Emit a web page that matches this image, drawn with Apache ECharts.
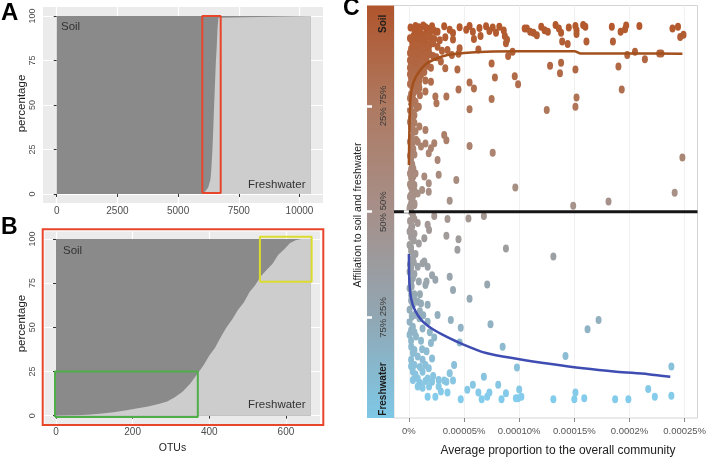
<!DOCTYPE html>
<html><head><meta charset="utf-8">
<script src="https://cdn.jsdelivr.net/npm/echarts@6/dist/echarts.min.js"></script>
<style>html,body{margin:0;padding:0;background:#fff}#c{width:709px;height:458px}</style>
</head><body><div id="c"></div>
<script>
// ---------------- Panel A ----------------
const aOTU   = [0, 6040, 6240, 6329, 6363, 6411, 6450, 6485, 6520, 6555, 6590, 6624, 6659, 6677, 10470];
const aFresh = [0, 0, 3.6, 8, 12.6, 24, 37, 50, 62, 74, 82.5, 93, 99, 100, 100];
const aSoilExtent = [0, 10470];
const aTicksX = [0, 2500, 5000, 7500, 10000];
const pctTicks = [0, 25, 50, 75, 100];
const aRedBox = [5997, 0.5, 6755, 100];
// ---------------- Panel B ----------------
const bOTU   = [0, 30, 60, 90, 120, 150, 180, 210, 240, 270, 290, 310, 330, 350, 370, 385, 400, 415, 430, 445, 460, 475, 490, 505, 520, 535, 550, 565, 580, 595, 610, 625, 640, 665];
const bFresh = [0, 0.1, 0.3, 0.7, 1.3, 2.0, 3.0, 4.0, 5.2, 6.8, 8.0, 10.5, 13.5, 18, 24, 28.5, 34, 38.5, 44.5, 50, 54.5, 60, 64, 70, 74, 79, 82.5, 86, 91, 94, 97.5, 99.3, 100, 100];
const bSoilExtent = [0, 665];
const bTicksX = [0, 200, 400, 600];
const bGreenBox = [-2.6, -0.7, 370, 25];
const bYellowBox = [532, 75.8, 667, 101.3];
// ---------------- Panel C ----------------
// x in units of 0.00001 % (average proportion), y = affiliation to soil (%)
const cXRange = [-1.35, 26.17];
const cYRange = [1.25, 98.72];
const cTicks = [0, 5, 10, 15, 20, 25];
const cTickLabels = ['0%', '0.00005%', '0.00010%', '0.00015%', '0.0002%', '0.00025%'];
const cYLabelPos = [8.1, 25, 50, 75, 94.4];
const cYLabels = ['Freshwater', '75% 25%', '50% 50%', '25% 75%', 'Soil'];
const cYTicks = [25, 50, 75];
const cSoilCore = [[0.5,93.0],[0.9,93.6],[1.3,94.0],[1.7,93.2],[2.1,93.8],[2.4,92.6],[0.4,91.5],[0.8,92.0],[1.2,91.8],[1.6,92.4],[2.0,91.0],[0.3,90.0],[0.7,90.5],[1.1,89.8],[1.5,90.3],[1.9,89.5],[2.3,90.8],[0.2,88.5],[0.6,88.8],[1.0,88.0],[1.4,87.6],[1.8,88.3],[0.3,86.8],[0.7,86.2],[1.2,86.5],[1.6,85.9],[2.2,86.8],[0.2,85.0],[0.5,84.6],[0.9,84.2],[1.3,84.8],[2.0,84.0],[0.3,83.2],[0.7,82.8],[1.1,82.3],[0.2,81.5],[0.5,80.8],[0.9,80.2],[1.5,81.0],[0.3,79.5],[0.6,78.6],[0.2,77.8],[1.0,77.5],[0.4,76.5],[0.2,75.2],[0.7,74.5],[0.3,73.5],[0.2,72.2],[0.5,71.0],[0.2,70.0],[0.4,68.8],[0.2,67.5],[0.8,66.5],[0.3,65.8],[0.2,64.5],[0.5,63.5],[0.2,62.5],[0.3,61.2],[0.2,60.0],[0.6,59.0],[0.2,58.0],[0.3,57.0],[0.2,55.8],[0.5,55.0],[0.2,54.0],[0.3,53.0],[0.2,52.0],[0.5,51.5],[0.2,50.8],
 [0.15,93.5],[1.0,92.8],[1.9,92.0],[2.2,93.0],[0.6,93.9],[1.5,93.6],[0.1,91.0],[0.9,91.0],[1.3,90.8],[1.7,91.4],[2.2,89.8],[0.5,89.3],[0.9,89.2],[1.3,88.8],[1.7,89.0],[0.1,87.5],[0.5,87.5],[0.9,87.0],[1.5,86.8],[1.9,87.2],[0.1,85.8],[0.5,85.6],[0.9,85.5],[1.1,84.0],[1.7,84.5],[0.1,84.0],[0.5,83.0],[0.9,83.2],[1.4,83.0],[0.1,82.5],[0.4,82.0],[0.8,81.5],[0.1,80.2],[0.6,80.0],[0.4,78.0],[0.1,76.8],[0.6,76.0],[0.1,74.0],[0.5,72.8],[0.1,71.2],[0.3,69.8],[0.6,69.0],[0.1,66.5],[0.4,64.8],[0.1,63.2],[0.4,60.2],[0.1,59.0],[0.4,58.3],[0.1,56.5],[0.35,55.5],[0.1,53.5],[0.4,53.8],[0.1,51.2]];
const cSoilNear = [[0.95,79.2],[1.5,78.4],[0.95,81.1],[2.0,80.7],[2.4,77.2],[0.9,74.8],[0.95,70.1],[1.5,69.3],[0.65,67.0],[1.1,65.4],[1.5,66.1],[2.0,65.0],[2.3,66.2],[1.8,63.8],[1.4,58.3],[1.8,56.7],[0.5,56.3],[1.2,55.1],[0.8,54.3],[0.3,52.4],[0.5,52.0],[1.8,54.7]];
const cSoilSpread = [[2.6,92.5],[3.2,93.8],[3.7,93.0],[4.0,92.2],[4.6,93.6],[5.2,93.0],[5.5,93.9],[5.8,92.5],[6.4,93.4],[7.0,93.8],[7.3,92.7],[7.6,93.5],[7.9,92.3],[8.2,93.7],[8.6,92.8],[8.7,91.5],
 [2.8,90.5],[3.3,91.2],[2.6,89.0],[3.0,88.0],[3.5,88.2],[3.9,87.0],[4.5,87.3],[2.5,86.5],[2.9,85.5],
 [4.0,90.7],[5.9,90.8],[6.5,91.5],[4.6,88.6],[6.3,88.3],[8.9,90.6],[8.8,89.8],[9.0,86.8],[9.4,87.8],[10.5,93.3],
 [7.5,85.0],[7.8,81.7],[9.6,82.0],[9.9,80.1],[5.5,80.5],[5.9,79.1],[4.5,78.9],[3.4,77.2],[2.5,75.6],[7.5,76.6],[5.5,74.2],[4.4,83.6],[3.3,83.9],[3.2,68.1],[3.4,66.9],[5.5,65.5],[7.6,63.9],[2.7,58.7],[4.3,57.5],[3.7,52.6],[2.6,62.2],
 [10.7,93.3],[11.0,92.5],[11.3,92.3],[11.6,91.7],[12.0,93.7],[12.3,92.9],[12.6,92.5],[13.3,94.1],[13.6,93.3],[13.8,92.3],[13.9,90.2],[14.5,93.5],[14.4,89.6],[15.1,93.9],[15.2,92.9],[15.2,92.0],[15.8,94.1],[16.0,93.7],[16.1,90.2],
 [12.8,84.5],[13.8,85.2],[13.7,82.7],[15.1,83.6],[12.5,74.0],[15.2,77.0],[15.1,74.8],[18.4,93.7],[18.5,90.2],[19.2,92.5],[19.6,93.1],[19.7,94.0],[20.9,93.9],[19.0,84.3],[19.3,78.9],[19.8,87.0],[20.5,87.8],[21.4,86.0],[22.7,87.4],[22.9,87.4],
 [23.9,93.3],[24.4,93.7],[24.6,91.3],[24.9,91.8],[24.8,62.8],[24.1,54.5],[14.9,51.4],[18.1,52.4],[9.65,55.7]];
const cFreshCore = [[0.06,50.8],[0.36,49.2],[0.1,47.8],[0.3,46.5],[0.06,45.3],[0.2,44.0],[0.06,42.1],[0.21,40.6],[0.36,39.0],[0.1,37.5],[0.06,35.8],[0.36,34.3],[0.2,33.0],[0.06,31.9],[0.21,30.3],[0.36,28.0],[0.06,26.8],[0.5,25.6],[0.06,24.0],[0.36,22.8],[0.06,20.9],[0.21,18.1],[0.36,16.6],[0.5,13.8],[0.36,12.2],[0.36,10.2],
 [0.8,47.3],[1.4,43.7],[0.8,37.0],[1.24,37.8],[1.5,32.7],[0.8,28.7],[1.1,28.3],[0.95,24.8],[1.24,22.4],[0.65,20.5],[1.1,19.5],[0.8,15.8],[1.24,15.0],[1.5,13.8],[1.24,12.2],[0.8,10.6],[1.24,8.4],[0.8,8.7],[0.5,30.5],[0.9,33.5],[0.6,40.0],[0.9,42.5],[0.5,44.8],[1.4,38.2],
 [0.2,50.0],[0.5,48.3],[0.2,46.2],[0.45,43.2],[0.2,41.5],[0.45,38.0],[0.2,36.7],[0.5,35.3],[0.25,32.3],[0.5,29.2],[0.2,29.0],[0.25,25.2],[0.2,22.0],[0.5,21.5],[0.2,19.5],[0.5,17.3],[0.2,15.0],[0.6,11.5],[0.2,13.5],[1.0,26.5],[1.3,25.5],[1.0,30.5],[1.2,17.5],[1.0,13.3],[1.5,10.0],[1.0,9.5]];
const cFreshSpread = [[1.7,46.9],[1.83,45.7],[2.3,49.0],[3.5,48.3],[5.4,48.4],[6.8,49.0],[3.4,44.3],[4.5,43.5],[4.4,41.0],[8.8,41.3],[13.1,39.4],[2.1,35.0],[1.6,33.5],[2.4,33.9],[1.7,37.0],[3.7,34.6],[7.1,32.8],[4.0,31.5],[5.5,29.4],[1.7,28.0],[2.6,25.6],[3.8,24.4],[7.4,23.4],[4.7,22.6],[17.2,24.4],[16.2,22.2],[1.7,24.0],[1.9,21.5],[2.3,20.3],[2.0,19.0],[1.6,17.0],[2.1,15.3],[1.8,13.0],[4.6,19.1],[8.5,18.1],[14.2,15.9],[23.8,13.4],[4.1,13.8],[3.7,11.8],[2.7,10.2],[3.4,9.8],[4.0,10.1],[6.8,11.0],[9.8,13.2],[5.3,7.9],[5.8,9.1],[6.3,7.3],[7.3,7.3],[8.1,9.1],[8.8,7.1],[10.0,8.0],[4.7,5.7],[6.6,5.7],[7.1,6.3],[8.4,5.7],[9.7,5.9],[9.9,5.9],[10.2,6.3],[13.1,5.7],[15.0,5.7],[15.1,7.3],[15.9,5.9],[18.7,5.7],[19.9,5.7],[21.7,8.1],[22.3,6.3],[23.8,6.5],[2.9,7.5],[3.5,7.3],[2.4,6.3],[1.7,6.3],[2.2,11.2],[3.2,10.1],[2.7,8.7],[1.7,10.6],[1.83,8.7],[2.1,9.8]];
const soilFitX = [0.0, 0.05, 0.15, 0.4, 0.9, 1.5, 2.5, 3.5, 5.0, 7.0, 10.0, 15.0, 15.6, 20.0, 24.8];
const soilFitY = [61, 70, 77, 80.5, 83, 84.8, 86.2, 87.0, 87.5, 87.8, 87.9, 87.9, 87.4, 87.4, 87.3];
const freshFitX = [0.0, 0.05, 0.2, 0.5, 1.1, 2.0, 3.0, 4.6, 7.0, 9.9, 12.9, 15.8, 18.8, 21.7, 23.7];
const freshFitY = [40, 33, 29.5, 27, 24.5, 22.5, 21, 19, 16.6, 15.2, 14, 13, 12.2, 11.6, 11];
const cMidLine = 50;

// ---------------- helpers ----------------
const zip = (xs, ys) => xs.map((x, i) => [x, ys[i]]);
const box = b => [[b[0], b[1]], [b[2], b[1]], [b[2], b[3]], [b[0], b[3]], [b[0], b[1]]];
const FONT = '"Liberation Sans", Arial, sans-serif';
const DARK = '#8a8a8a', LIGHT = '#cdcdcd', PANEL = '#ebebeb';

function ggX(gi, min, max, ticks) {
  return { gridIndex: gi, type: 'value', min: min, max: max,
    axisLine: { show: false },
    axisTick: { show: true, customValues: ticks, length: 3, lineStyle: { color: '#333' } },
    axisLabel: { customValues: ticks, fontSize: 10, color: '#4d4d4d', margin: 3, fontFamily: FONT, formatter: v => String(v) },
    splitLine: { show: true, lineStyle: { color: '#fff', width: 1.2 } } };
}
function ggY(gi, min, max, margin) {
  return { gridIndex: gi, type: 'value', min: min, max: max,
    axisLine: { show: false },
    axisTick: { show: true, customValues: pctTicks, length: 3, lineStyle: { color: '#333' } },
    axisLabel: { customValues: pctTicks, fontSize: 9, color: '#4d4d4d', rotate: 90, margin: margin, fontFamily: FONT, formatter: v => String(v) },
    splitLine: { show: true, lineStyle: { color: '#fff', width: 1.2 } } };
}
function area(xi, data, color) {
  return { type: 'line', xAxisIndex: xi, yAxisIndex: xi, data: data, showSymbol: false, symbol: 'none',
    lineStyle: { width: 0 }, areaStyle: { color: color, opacity: 1 }, silent: true, z: 2 };
}
function boxLine(xi, b, color) {
  return { type: 'line', xAxisIndex: xi, yAxisIndex: xi, data: box(b), symbol: 'none', showSymbol: false,
    lineStyle: { color: color, width: 2 }, silent: true, z: 4 };
}

const scatterData = [].concat(cSoilCore, cSoilNear, cSoilSpread, cFreshCore, cFreshSpread);

const C_LEFT = 394, C_TOP = 5.5, C_W = 311, C_H = 412.5;

const chart = echarts.init(document.getElementById('c'), null, { renderer: 'canvas' });
chart.setOption({
  animation: false,
  textStyle: { fontFamily: FONT },
  grid: [
    { left: 43, top: 7, width: 280, height: 196, show: true, backgroundColor: PANEL, borderWidth: 0, containLabel: false },
    { left: 44.5, top: 231.5, width: 275.5, height: 192.5, show: true, backgroundColor: PANEL, borderWidth: 0, containLabel: false },
    { left: C_LEFT, top: C_TOP, width: C_W, height: C_H, show: true, backgroundColor: '#fff', borderColor: '#d4d4d4', borderWidth: 1, containLabel: false }
  ],
  xAxis: [
    ggX(0, -564, 10968, aTicksX),
    ggX(1, -30, 688.8, bTicksX),
    { gridIndex: 2, type: 'value', min: cXRange[0], max: cXRange[1],
      axisLine: { show: false },
      axisTick: { show: true, customValues: cTicks, length: 4, lineStyle: { color: '#888' } },
      axisLabel: { customValues: cTicks, fontSize: 9.5, color: '#555', margin: 8, fontFamily: FONT,
        formatter: v => { const i = cTicks.findIndex(t => Math.abs(t - v) < 1e-6); return i < 0 ? '' : cTickLabels[i]; } },
      splitLine: { show: true, lineStyle: { color: '#f1f1f1', width: 1 } } }
  ],
  yAxis: [
    ggY(0, -5.06, 105.06, 6),
    ggY(1, -4.7, 104.2, 7.5),
    { gridIndex: 2, type: 'value', min: cYRange[0], max: cYRange[1], z: 10,
      axisLine: { show: false },
      axisTick: { show: true, customValues: cYTicks, length: 5, lineStyle: { color: '#fff', width: 2.5 } },
      axisLabel: { customValues: cYLabelPos, rotate: 90, margin: 6, fontSize: 9.5, color: '#3a3a3a', fontFamily: FONT,
        formatter: v => { const i = cYLabelPos.findIndex(t => Math.abs(t - v) < 1e-6); if (i < 0) return ''; const s = cYLabels[i]; return (i === 0 || i === cYLabels.length - 1) ? '{b|' + s + '}' : s; },
        rich: { b: { fontWeight: 'bold', fontSize: 10, color: '#1c1c1c', fontFamily: FONT } } },
      splitLine: { show: false } },
    { gridIndex: 2, type: 'value', min: cYRange[0], max: cYRange[1], position: 'left', offset: 27, z: 10,
      axisLine: { show: false },
      axisTick: { show: true, inside: true, customValues: cYTicks, length: 5, lineStyle: { color: '#fff', width: 2.5 } },
      axisLabel: { show: false }, splitLine: { show: false } }
  ],
  visualMap: [{ type: 'continuous', show: false, dimension: 1, seriesIndex: 7, min: 5, max: 95,
    inRange: { color: ['#84cdee', '#94acb9', '#a5958f', '#ae7a60', '#b3572a'] } }],
  series: [
    area(0, aSoilExtent.map(x => [x, 100]), DARK),
    area(0, zip(aOTU, aFresh), LIGHT),
    boxLine(0, aRedBox, '#e8462b'),
    area(1, bSoilExtent.map(x => [x, 100]), DARK),
    area(1, zip(bOTU, bFresh), LIGHT),
    boxLine(1, bGreenBox, '#4fae48'),
    boxLine(1, bYellowBox, '#dcdc2e'),
    { type: 'scatter', xAxisIndex: 2, yAxisIndex: 2, data: scatterData, symbol: 'circle', symbolSize: [6, 8],
      itemStyle: { opacity: 1 }, silent: true, z: 2 },
    { type: 'line', xAxisIndex: 2, yAxisIndex: 2, data: zip(soilFitX, soilFitY), smooth: 0.3, symbol: 'none', showSymbol: false,
      lineStyle: { color: '#a3501d', width: 2.5 }, silent: true, z: 3 },
    { type: 'line', xAxisIndex: 2, yAxisIndex: 2, data: zip(freshFitX, freshFitY), smooth: 0.3, symbol: 'none', showSymbol: false,
      lineStyle: { color: '#3f4db3', width: 2.5 }, silent: true, z: 3 },
    { type: 'line', xAxisIndex: 2, yAxisIndex: 2, data: cXRange.map(x => [x, cMidLine]), symbol: 'none', showSymbol: false,
      lineStyle: { color: '#151515', width: 3 }, silent: true, z: 5 }
  ],
  graphic: [
    { type: 'rect', z: 1, shape: { x: 367, y: C_TOP, width: 27, height: C_H },
      style: { fill: new echarts.graphic.LinearGradient(0, 0, 0, 1, [
        { offset: 0, color: '#b0552c' }, { offset: 0.25, color: '#ae7a62' }, { offset: 0.5, color: '#a6908a' },
        { offset: 0.75, color: '#91a6b2' }, { offset: 1, color: '#7ec8e6' }]) } },
    { type: 'rect', z: 20, shape: { x: 42.7, y: 229.3, width: 280.6, height: 195.7 },
      style: { fill: 'none', stroke: '#e8462b', lineWidth: 2 } },
    { type: 'text', z: 20, x: 1, y: 13.5, style: { text: 'A', font: 'bold 24px ' + FONT, fill: '#000', textVerticalAlign: 'middle' } },
    { type: 'text', z: 20, x: 1, y: 227.5, style: { text: 'B', font: 'bold 23px ' + FONT, fill: '#000', textVerticalAlign: 'middle' } },
    { type: 'text', z: 20, x: 343, y: 9, style: { text: 'C', font: 'bold 23px ' + FONT, fill: '#000', textVerticalAlign: 'middle' } },
    { type: 'text', z: 20, x: 61, y: 27, style: { text: 'Soil', font: '11.5px ' + FONT, fill: '#333', textVerticalAlign: 'middle' } },
    { type: 'text', z: 20, x: 248, y: 185, style: { text: 'Freshwater', font: '11.5px ' + FONT, fill: '#333', textVerticalAlign: 'middle' } },
    { type: 'text', z: 20, x: 63, y: 251, style: { text: 'Soil', font: '11.5px ' + FONT, fill: '#333', textVerticalAlign: 'middle' } },
    { type: 'text', z: 20, x: 248, y: 405, style: { text: 'Freshwater', font: '11.5px ' + FONT, fill: '#333', textVerticalAlign: 'middle' } },
    { type: 'text', z: 20, x: 21.7, y: 103.5, rotation: Math.PI / 2, style: { text: 'percentage', font: '11.5px ' + FONT, fill: '#222', textAlign: 'center', textVerticalAlign: 'middle' } },
    { type: 'text', z: 20, x: 21.7, y: 323.6, rotation: Math.PI / 2, style: { text: 'percentage', font: '11.5px ' + FONT, fill: '#222', textAlign: 'center', textVerticalAlign: 'middle' } },
    { type: 'text', z: 20, x: 172.5, y: 448.3, style: { text: 'OTUs', font: '10.5px ' + FONT, fill: '#222', textAlign: 'center', textVerticalAlign: 'middle' } },
    { type: 'text', z: 20, x: 358.5, y: 215, rotation: Math.PI / 2, style: { text: 'Affiliation to soil and freshwater', font: '10.5px ' + FONT, fill: '#222', textAlign: 'center', textVerticalAlign: 'middle' } },
    { type: 'text', z: 20, x: 558, y: 451, style: { text: 'Average proportion to the overall community', font: '12px ' + FONT, fill: '#222', textAlign: 'center', textVerticalAlign: 'middle' } }
  ]
});
</script></body></html>
